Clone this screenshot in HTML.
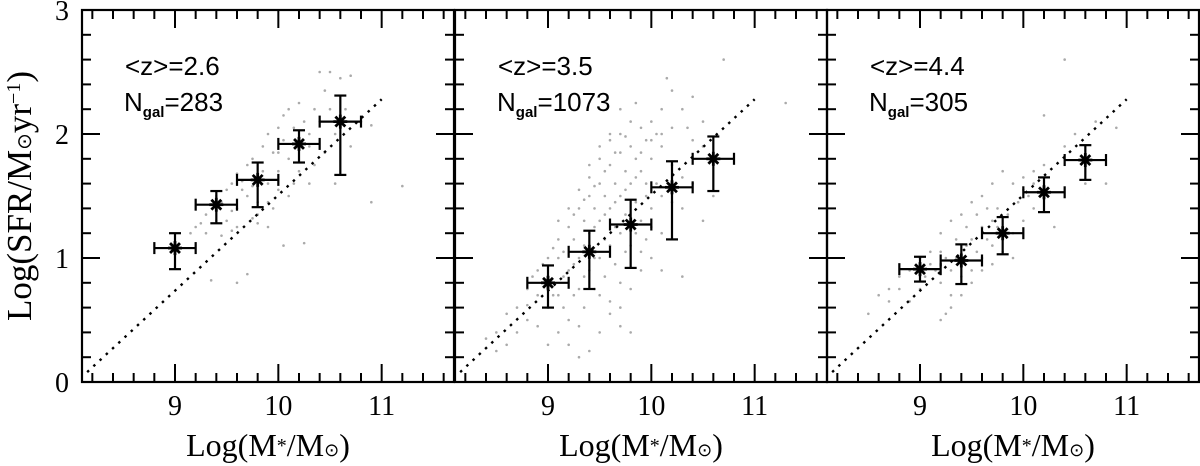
<!DOCTYPE html>
<html><head><meta charset="utf-8"><style>
html,body{margin:0;padding:0;background:#fff;}
svg{display:block;}
</style></head><body>
<svg id="chart" width="1200" height="466" viewBox="0 0 1200 466" xmlns="http://www.w3.org/2000/svg"></svg>
<script>
const panelLabels = ["<z>=2.6","<z>=3.5","<z>=4.4"];
const ngalValues = ["283","1073","305"];
const xTicks = [9,10,11];
const yTicks = [0,1,2,3];
const binX = [9.0,9.4,9.8,10.2,10.6];
const meanSFR1 = [1.08,1.43,1.63,1.92,2.10];
const errUp1 = [0.12,0.11,0.14,0.11,0.21];
const errDn1 = [0.17,0.15,0.22,0.15,0.43];
const meanSFR2 = [0.80,1.05,1.27,1.57,1.80];
const errUp2 = [0.14,0.17,0.20,0.21,0.18];
const errDn2 = [0.20,0.30,0.35,0.42,0.26];
const meanSFR3 = [0.91,0.98,1.20,1.53,1.79];
const errUp3 = [0.10,0.13,0.13,0.12,0.12];
const errDn3 = [0.10,0.19,0.17,0.16,0.16];
const binHalfWidth = 0.2;
const relX = [8.15,11.0];
const relY = [0.08,2.28];
const scatter1 = [[9.15,1.2],[9.2,1.25],[9.3,1.35],[9.4,1.5],[9.5,1.55],[9.55,1.6],[9.6,1.68],[9.7,1.75],[9.75,1.8],[9.85,1.9],[9.9,2.0],[10.0,2.05],[10.05,2.15],[10.1,2.2],[10.2,2.25],[10.4,2.5],[10.5,2.5],[10.6,2.45],[10.7,2.47],[9.3,1.2],[9.4,1.3],[9.5,1.3],[9.6,1.4],[9.7,1.5],[9.8,1.45],[9.9,1.6],[10.0,1.7],[10.0,1.85],[10.1,1.8],[10.3,1.9],[10.3,2.0],[10.4,2.1],[10.5,2.2],[10.7,1.9],[10.8,2.1],[9.35,0.82],[9.6,0.8],[9.7,0.87],[9.9,1.25],[10.05,1.1],[10.25,1.12],[10.55,1.6],[10.9,1.45],[11.2,1.58],[9.8,1.35],[9.95,1.4],[10.15,1.6],[9.65,1.55],[10.45,1.85],[10.9,2.07],[9.25,1.28],[9.45,1.45],[9.55,1.38],[9.65,1.62],[9.75,1.58],[9.85,1.7],[9.95,1.85],[10.05,1.95],[10.15,2.05],[10.25,2.1],[10.35,2.2],[9.6,1.25],[9.8,1.28],[9.9,1.45],[10.1,1.5],[10.2,1.7],[10.35,1.75],[10.45,2.35],[10.55,2.0],[10.65,2.2],[9.45,1.18],[9.55,1.22],[9.75,1.32],[10.0,1.55],[10.3,1.6]];
const scatter2 = [[8.4,0.35],[8.5,0.4],[8.6,0.55],[8.7,0.6],[8.8,0.75],[8.9,0.9],[9.0,1.0],[9.1,1.15],[9.2,1.25],[9.3,1.4],[9.4,1.5],[9.5,1.6],[9.6,1.75],[9.7,1.85],[9.8,1.9],[9.9,2.05],[10.0,2.1],[10.1,2.2],[10.2,2.35],[10.3,2.2],[10.4,2.3],[10.5,2.1],[9.2,0.9],[9.3,1.0],[9.4,1.2],[9.5,1.3],[9.6,1.4],[9.7,1.5],[9.8,1.6],[9.9,1.7],[10.0,1.8],[10.1,1.9],[10.2,1.75],[9.0,0.6],[9.1,0.7],[9.2,0.5],[9.3,0.75],[9.4,0.9],[9.5,1.0],[9.6,1.1],[9.7,1.2],[9.8,1.1],[9.9,1.3],[10.0,1.4],[10.1,1.2],[9.3,0.45],[9.5,0.7],[9.7,0.8],[9.9,0.9],[10.1,0.9],[10.3,1.4],[10.4,1.6],[8.8,0.5],[8.9,0.7],[9.0,0.3],[9.2,0.3],[9.4,0.25],[9.6,0.55],[9.8,0.4],[10.7,2.6],[10.0,1.0],[10.3,0.85],[10.5,1.3],[11.3,2.25],[9.5,1.8],[9.6,2.0],[9.7,2.2],[9.4,1.65],[9.1,1.0],[9.0,0.85],[8.8,0.62],[9.85,2.25],[10.15,2.45],[10.6,1.5],
[9.05,1.08],[9.15,1.05],[9.25,1.15],[9.35,1.3],[9.45,1.4],[9.55,1.5],[9.65,1.6],[9.75,1.7],[9.85,1.8],[9.95,1.95],[10.05,2.0],[9.15,0.85],[9.25,0.95],[9.35,1.1],[9.45,1.25],[9.55,1.35],[9.65,1.45],[9.75,1.55],[9.85,1.65],[9.95,1.6],[9.25,0.7],[9.35,0.85],[9.45,1.0],[9.55,1.15],[9.65,1.25],[9.75,1.35],[9.85,1.45],[9.95,1.5],[10.05,1.6],[9.35,0.6],[9.45,0.75],[9.55,0.85],[9.65,0.95],[9.75,1.05],[9.85,1.2],[9.95,1.15],[8.95,0.95],[9.05,0.7],[9.15,0.6],[8.85,0.85],[9.1,1.3],[9.2,1.4],[9.3,1.55],[9.4,1.75],[9.5,1.9],[9.6,1.95],[9.7,2.0],[9.8,2.1],[9.75,1.98],[9.65,1.85],[9.55,1.7],[9.45,1.58],[9.35,1.47],[9.25,1.35],[9.6,0.65],[9.7,0.6],[9.8,0.75],[9.9,1.05],[10.0,1.25],[10.1,1.5],[10.2,1.45],[10.3,1.65],[10.4,1.95],[10.5,1.9],[8.7,0.4],[8.6,0.3],[8.5,0.25],[8.9,0.45],[9.1,0.4],[9.3,0.2],[9.5,0.4],[9.7,0.45],[10.2,2.05],[10.35,2.05],[10.0,1.95],[9.9,1.85],[10.1,2.0]];
const scatter3 = [[8.5,0.55],[8.6,0.7],[8.7,0.75],[8.8,0.85],[8.9,0.9],[9.0,1.0],[9.1,1.05],[9.2,1.2],[9.3,1.3],[9.4,1.35],[9.5,1.45],[9.6,1.5],[9.7,1.6],[9.8,1.7],[9.9,1.6],[10.0,1.65],[10.1,1.6],[10.2,1.75],[10.4,1.9],[10.5,2.0],[10.7,2.1],[10.2,2.15],[10.4,2.6],[9.2,0.8],[9.3,0.7],[9.4,0.85],[9.5,0.9],[9.6,1.0],[9.7,1.1],[9.8,1.05],[9.9,1.2],[10.0,1.3],[10.1,1.4],[9.2,0.5],[9.3,0.6],[9.1,0.95],[9.0,0.75],[9.5,1.15],[9.6,1.25],[9.7,0.95],[9.9,1.0],[10.3,1.25],[10.6,1.6],[10.8,1.6],[9.25,0.55],[9.55,1.35],[9.45,1.1],[9.75,1.4],[9.35,1.0],[8.9,0.65],[10.9,2.05],[9.15,0.9],[9.25,1.0],[9.35,1.15],[9.45,1.25],[9.55,1.05],[9.65,1.15],[9.75,1.25],[9.85,1.35],[9.95,1.45],[10.05,1.5],[9.05,0.85],[9.2,1.05],[9.3,0.9],[9.4,0.7],[9.5,0.8],[9.6,0.9],[9.8,1.15],[10.0,1.55],[10.1,1.7],[8.8,0.75],[8.7,0.65],[9.65,1.4],[9.7,1.3]];
const panels = [
  {label:panelLabels[0], ngal:ngalValues[0], y:meanSFR1, up:errUp1, dn:errDn1, pts:scatter1},
  {label:panelLabels[1], ngal:ngalValues[1], y:meanSFR2, up:errUp2, dn:errDn2, pts:scatter2},
  {label:panelLabels[2], ngal:ngalValues[2], y:meanSFR3, up:errUp3, dn:errDn3, pts:scatter3}
];
const svg = document.getElementById('chart');
const NS = 'http://www.w3.org/2000/svg';
const pLeft = [82,455,827], pW = 372, pTop = 10, pBot = 382;
const xMin = 8.1, xMax = 11.7, yMin = 0, yMax = 3;
function mk(tag, attrs, parent){const e=document.createElementNS(NS,tag);for(const k in attrs)e.setAttribute(k,attrs[k]);(parent||svg).appendChild(e);return e;}
function yS(v){return pBot-(v-yMin)/(yMax-yMin)*(pBot-pTop);}
panels.forEach((p,i)=>{
  const L = pLeft[i];
  const xS = v => L+(v-xMin)/(xMax-xMin)*pW;
  const g = mk('g',{});
  
  
  p.pts.forEach(pt=>{
    const c = mk('circle',{cx:xS(pt[0]),cy:yS(pt[1]),r:1.3,fill:'#aaa'},g);
    
    
  });
  const rl = mk('line',{x1:xS(relX[0]),y1:yS(relY[0]),x2:xS(relX[1]),y2:yS(relY[1]),stroke:'#000','stroke-width':2.4,'stroke-dasharray':'2.5 6'},g);
  
  
  for(let k=0;k<=18;k++){
    const v = 8.2+k*0.2; if(v>xMax) break;
    const major = Math.abs(v-Math.round(v))<1e-6;
    const len = major?18:9, x = xS(v);
    mk('line',{x1:x,y1:pBot,x2:x,y2:pBot-len,stroke:'#000','stroke-width':2},g);
    mk('line',{x1:x,y1:pTop,x2:x,y2:pTop+len,stroke:'#000','stroke-width':2},g);
  }
  for(let k=1;k<15;k++){
    const v = k*0.2;
    const major = Math.abs(v-Math.round(v))<1e-6;
    const len = major?18:9, y = yS(v);
    mk('line',{x1:L,y1:y,x2:L+len,y2:y,stroke:'#000','stroke-width':2},g);
    mk('line',{x1:L+pW,y1:y,x2:L+pW-len,y2:y,stroke:'#000','stroke-width':2},g);
  }
  xTicks.forEach(t=>{
    const tx = mk('text',{x:xS(t),y:415,'text-anchor':'middle','font-size':28,'font-family':'"Liberation Serif",serif'},g);
    tx.textContent = t;
    
    
  });
  const xt = mk('text',{x:L+pW/2,y:456,'text-anchor':'middle','font-size':32,'font-family':'"Liberation Serif",serif'},g);
  xt.innerHTML = 'Log(M<tspan font-size="20" dy="-4">*</tspan><tspan dy="4">/M</tspan><tspan font-size="18">⊙</tspan>)';
  
  
  const fr = mk('rect',{x:L,y:pTop,width:pW,height:pBot-pTop,fill:'none',stroke:'#000','stroke-width':2.2},g);
  
  
  const lz = mk('text',{x:L+43,y:75,'font-size':26,'font-family':'"Liberation Sans",sans-serif'},g);
  lz.textContent = p.label;
  
  
  const ln = mk('text',{x:L+42,y:111,'font-size':26,'font-family':'"Liberation Sans",sans-serif'},g);
  ln.innerHTML = 'N<tspan font-size="15" font-weight="bold" dy="6">gal</tspan><tspan dy="-6">=' + p.ngal + '</tspan>';
  
  
  binX.forEach((bx,j)=>{
    const eg = mk('g',{stroke:'#000','stroke-width':2.2,fill:'none'},g);
    
    
    const cx = xS(bx), cy = yS(p.y[j]);
    const x0 = xS(bx-binHalfWidth), x1 = xS(bx+binHalfWidth);
    const yt = yS(p.y[j]+p.up[j]), yb = yS(p.y[j]-p.dn[j]);
    mk('line',{x1:x0,y1:cy,x2:x1,y2:cy},eg);
    mk('line',{x1:x0,y1:cy-6,x2:x0,y2:cy+6},eg);
    mk('line',{x1:x1,y1:cy-6,x2:x1,y2:cy+6},eg);
    mk('line',{x1:cx,y1:yt,x2:cx,y2:yb},eg);
    mk('line',{x1:cx-6,y1:yt,x2:cx+6,y2:yt},eg);
    mk('line',{x1:cx-6,y1:yb,x2:cx+6,y2:yb},eg);
    for(let a=0;a<4;a++){const an=a*Math.PI/4;mk('line',{x1:cx-7*Math.cos(an),y1:cy-7*Math.sin(an),x2:cx+7*Math.cos(an),y2:cy+7*Math.sin(an),'stroke-width':2.8},eg);}
  });
});
yTicks.forEach(t=>{
  const ty = mk('text',{x:62,y:yS(t)+10,'text-anchor':'middle','font-size':28,'font-family':'"Liberation Serif",serif'});
  ty.textContent = t;
  
  
});
const yt = mk('text',{x:0,y:0,'text-anchor':'middle','font-size':35,'font-family':'"Liberation Serif",serif',transform:'translate(31,196) rotate(-90)'});
yt.innerHTML = 'Log(SFR/M<tspan font-size="20">⊙</tspan>yr<tspan font-size="20" dy="-11">−1</tspan><tspan dy="11">)</tspan>';


</script>
</body></html>
